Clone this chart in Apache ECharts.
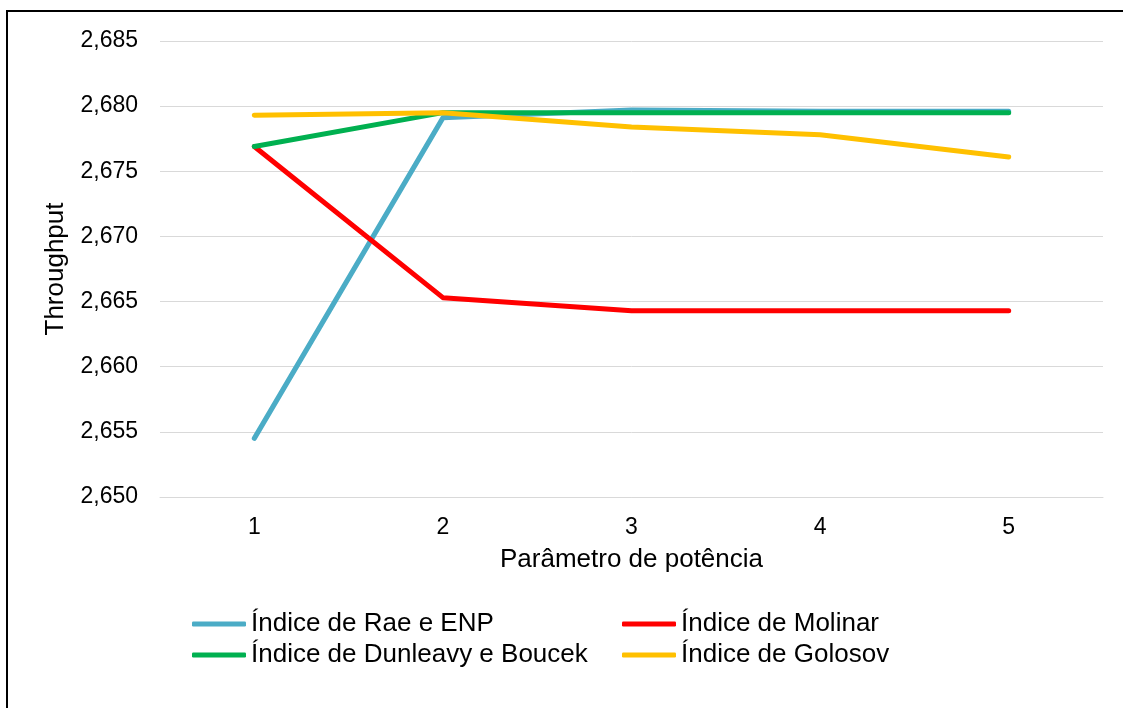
<!DOCTYPE html>
<html>
<head>
<meta charset="utf-8">
<script src="https://cdn.jsdelivr.net/npm/echarts@6/dist/echarts.min.js"></script>
<style>html,body{margin:0;padding:0;background:#fff}#c{width:1123px;height:708px}</style>
</head>
<body>
<div id="c"></div>
<script>
const categories = ['1', '2', '3', '4', '5'];
const raeENP = [2.6545, 2.6791, 2.6797, 2.6796, 2.6796];
const molinar = [2.6769, 2.6653, 2.6643, 2.6643, 2.6643];
const dunleavyBoucek = [2.6769, 2.6795, 2.6795, 2.6795, 2.6795];
const golosov = [2.6793, 2.6795, 2.6784, 2.6778, 2.6761];
const seriesNames = ['Índice de Rae e ENP', 'Índice de Molinar', 'Índice de Dunleavy e Boucek', 'Índice de Golosov'];
const colors = ['#4BACC6', '#FF0000', '#00B050', '#FFC000'];
const yMin = 2.650, yMax = 2.685, yStep = 0.005;

const FONT = '"Liberation Sans", Arial, sans-serif';
const chart = echarts.init(document.getElementById('c'), null, {renderer: 'canvas'});
const dataSets = [raeENP, molinar, dunleavyBoucek, golosov];
const legendPos = [[192, 611], [622, 611], [192, 642], [622, 642]];

chart.setOption({
  animation: false,
  backgroundColor: '#fff',
  graphic: [{
    type: 'rect', shape: {x: 7, y: 11, width: 1300, height: 900},
    style: {fill: 'none', stroke: '#000', lineWidth: 2}, silent: true, z: 100
  }],
  grid: {left: 160, right: 20, top: 41, bottom: 211},
  legend: seriesNames.map((n, i) => ({
    data: [n], left: legendPos[i][0], top: legendPos[i][1], padding: 0,
    icon: 'roundRect', itemWidth: 54, itemHeight: 5, itemGap: 0,
    textStyle: {fontFamily: FONT, fontSize: 26, color: '#000'}
  })),
  xAxis: {
    type: 'category', data: categories, boundaryGap: true,
    name: 'Parâmetro de potência', nameLocation: 'middle', nameGap: 50,
    nameTextStyle: {fontFamily: FONT, fontSize: 26, color: '#000'},
    axisLine: {lineStyle: {color: '#D9D9D9', width: 1}},
    axisTick: {show: false},
    axisLabel: {fontFamily: FONT, fontSize: 23, color: '#000', margin: 19}
  },
  yAxis: {
    type: 'value', min: yMin, max: yMax, interval: yStep,
    name: 'Throughput', nameLocation: 'middle', nameGap: 91, nameRotate: 90,
    nameTextStyle: {fontFamily: FONT, fontSize: 26, color: '#000'},
    axisLine: {show: false}, axisTick: {show: false},
    axisLabel: {fontFamily: FONT, fontSize: 23, color: '#000', margin: 22,
      formatter: v => v.toFixed(3).replace('.', ',')},
    splitLine: {lineStyle: {color: '#D9D9D9', width: 1}}
  },
  series: seriesNames.map((n, i) => ({
    name: n, type: 'line', data: dataSets[i], showSymbol: false, symbol: 'none',
    color: colors[i],
    lineStyle: {color: colors[i], width: 5, cap: 'round', join: 'round'},
    z: 2 + i
  }))
});
</script>
</body>
</html>
